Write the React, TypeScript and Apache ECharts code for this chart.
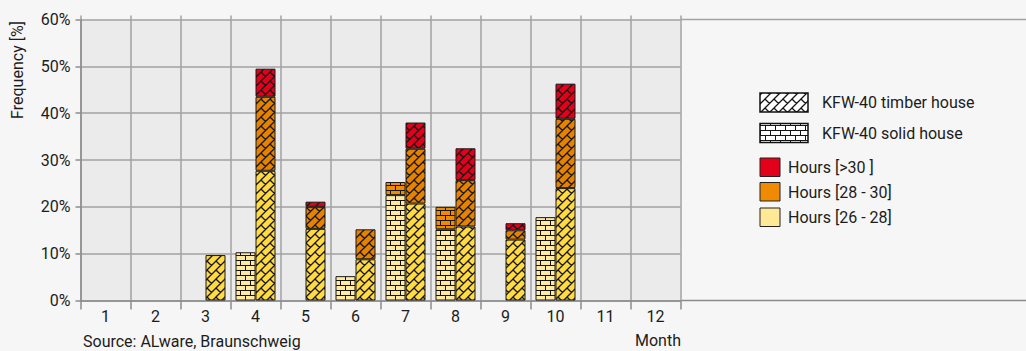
import React, { useEffect, useRef } from "react";
import * as echarts from "echarts";

const months = ["1", "2", "3", "4", "5", "6", "7", "8", "9", "10", "11", "12"];
const yTicks = [0, 10, 20, 30, 40, 50, 60];

// KFW-40 solid house (brick pattern)
const solid26_28 = [null, null, null, 10.3, null, 5.2, 22.5, 15.2, null, 17.8, null, null];
const solid28_30 = [null, null, null, null, null, null, 2.8, 4.8, null, null, null, null];
const solidOver30 = [null, null, null, null, null, null, null, null, null, null, null, null];

// KFW-40 timber house (diagonal brick pattern)
const timber26_28 = [null, null, 9.7, 27.7, 15.3, 8.8, 20.7, 15.8, 13.0, 24.0, null, null];
const timber28_30 = [null, null, null, 15.8, 4.7, 6.4, 11.7, 9.9, 2.0, 14.8, null, null];
const timberOver30 = [null, null, null, 6.0, 1.1, null, 5.6, 6.8, 1.5, 7.5, null, null];

const legendTypes = ["KFW-40 timber house", "KFW-40 solid house"];
const legendHours = ["Hours [>30 ]", "Hours [28 - 30]", "Hours [26 - 28]"];

const FONT = "Roboto";
const TXT = "#1c1c1c";
const GRID = "#a2a2a2";

function makePattern(bg: string | null, kind: "brick" | "diag", T: number) {
  const c = document.createElement("canvas");
  c.width = T;
  c.height = T;
  const g = c.getContext("2d")!;
  if (bg) {
    g.fillStyle = bg;
    g.fillRect(0, 0, T, T);
  }
  g.strokeStyle = "#151515";
  if (kind === "brick") {
    g.lineWidth = 1;
    g.beginPath();
    g.moveTo(0, 0.5);
    g.lineTo(T, 0.5);
    g.moveTo(0, T / 2 + 0.5);
    g.lineTo(T, T / 2 + 0.5);
    g.moveTo(0.5, 0);
    g.lineTo(0.5, T / 2);
    g.moveTo(T / 2 + 0.5, T / 2);
    g.lineTo(T / 2 + 0.5, T);
    g.stroke();
  } else {
    g.lineWidth = 1.3;
    g.beginPath();
    for (const dx of [-T, 0, T]) {
      for (const dy of [-T, 0, T]) {
        g.moveTo(dx, dy + T);
        g.lineTo(dx + T, dy);
        g.moveTo(dx, dy);
        g.lineTo(dx + T / 2, dy + T / 2);
      }
    }
    g.stroke();
  }
  return { image: c, repeat: "repeat", imageWidth: T, imageHeight: T } as any;
}

export default function App() {
  const ref = useRef<HTMLDivElement>(null);
  useEffect(() => {
    if (!ref.current) return;
    const chart = echarts.init(ref.current, null, { renderer: "svg" });

    const T = 10;
    const pSolidY = makePattern("#ffeaa0", "brick", T);
    const pSolidO = makePattern("#f08a00", "brick", T);
    const pSolidR = makePattern("#e3001b", "brick", T);
    const pTimY = makePattern("#ffda42", "diag", 9);
    const pTimO = makePattern("#e58200", "diag", 9);
    const pTimR = makePattern("#e3001b", "diag", 9);
    const pLegTim = makePattern("#ffffff", "diag", 9);
    const pLegSol = makePattern("#ffffff", "brick", T);

    const barBase = {
      type: "bar",
      barWidth: 20,
      barGap: "0%",
      xAxisIndex: 0,
      yAxisIndex: 0,
    };
    const border = { borderColor: "#1a1a1a", borderWidth: 1 };

    const legendSwatchX = 760;
    const hoursColors = ["#e3001b", "#f08a00", "#ffe896"];
    const hoursY = [158, 182.5, 208];

    const graphic: any[] = [
      {
        type: "text",
        x: 17.5,
        y: 70,
        rotation: Math.PI / 2,
        style: {
          text: "Frequency [%]",
          fontFamily: FONT,
          fontSize: 16,
          fill: TXT,
          textAlign: "center",
          textVerticalAlign: "middle",
        },
      },
      {
        type: "text",
        x: 83,
        y: 341,
        style: {
          text: "Source: ALware, Braunschweig",
          fontFamily: FONT,
          fontSize: 16,
          fill: TXT,
          textAlign: "left",
          textVerticalAlign: "middle",
        },
      },
      {
        type: "text",
        x: 681,
        y: 340,
        style: {
          text: "Month",
          fontFamily: FONT,
          fontSize: 16,
          fill: TXT,
          textAlign: "right",
          textVerticalAlign: "middle",
        },
      },
      {
        type: "line",
        shape: { x1: 680.5, y1: 300.5, x2: 1026, y2: 300.5 },
        style: { stroke: "#8c8c8c", lineWidth: 1.5 },
      },
      {
        type: "line",
        shape: { x1: 680.5, y1: 19.5, x2: 1026, y2: 19.5 },
        style: { stroke: GRID, lineWidth: 1.5 },
      },
      {
        type: "rect",
        shape: { x: legendSwatchX, y: 93, width: 48, height: 19 },
        style: { fill: pLegTim, stroke: "#111", lineWidth: 1.5 },
      },
      {
        type: "rect",
        shape: { x: legendSwatchX, y: 123.5, width: 48, height: 19 },
        style: { fill: pLegSol, stroke: "#111", lineWidth: 1.5 },
      },
      {
        type: "text",
        x: 822,
        y: 102,
        style: {
          text: legendTypes[0],
          fontFamily: FONT,
          fontSize: 16,
          fill: TXT,
          textAlign: "left",
          textVerticalAlign: "middle",
        },
      },
      {
        type: "text",
        x: 822,
        y: 133,
        style: {
          text: legendTypes[1],
          fontFamily: FONT,
          fontSize: 16,
          fill: TXT,
          textAlign: "left",
          textVerticalAlign: "middle",
        },
      },
    ];
    legendHours.forEach((label, i) => {
      graphic.push({
        type: "rect",
        shape: { x: legendSwatchX, y: hoursY[i], width: 20, height: 18.5 },
        style: { fill: hoursColors[i], stroke: "#222", lineWidth: 1 },
      });
      graphic.push({
        type: "text",
        x: 788,
        y: hoursY[i] + 9.5,
        style: {
          text: label,
          fontFamily: FONT,
          fontSize: 16,
          fill: TXT,
          textAlign: "left",
          textVerticalAlign: "middle",
        },
      });
    });

    chart.setOption({
      animation: false,
      backgroundColor: "#f6f6f6",
      textStyle: { fontFamily: FONT },
      grid: {
        left: 80.5,
        right: 1026 - 680.5,
        top: 19.5,
        bottom: 351 - 300.5,
        show: true,
        backgroundColor: "#ebebeb",
        borderWidth: 0,
      },
      xAxis: [
        {
          type: "category",
          data: months,
          boundaryGap: true,
          axisLine: { show: true, lineStyle: { color: "#8c8c8c", width: 1.5 } },
          axisTick: { show: true, length: 9, interval: 0, lineStyle: { color: "#8c8c8c", width: 1.5 } },
          axisLabel: { fontSize: 16, color: TXT, margin: 8, fontFamily: FONT },
          splitLine: { show: true, interval: 0, lineStyle: { color: GRID, width: 1.5 } },
        },
        {
          type: "category",
          data: months,
          position: "top",
          boundaryGap: true,
          axisLine: { show: false },
          axisTick: { show: true, length: 4, interval: 0, lineStyle: { color: GRID, width: 1.5 } },
          axisLabel: { show: false },
          splitLine: { show: false },
        },
      ],
      yAxis: {
        type: "value",
        min: yTicks[0],
        max: yTicks[yTicks.length - 1],
        interval: 10,
        axisLine: { show: true, lineStyle: { color: "#8c8c8c", width: 1.5 } },
        axisTick: { show: true, length: 5, lineStyle: { color: "#8c8c8c", width: 1.5 } },
        axisLabel: { fontSize: 16, color: TXT, margin: 10, formatter: "{value}%", fontFamily: FONT },
        splitLine: { show: true, lineStyle: { color: GRID, width: 1.5 } },
      },
      series: [
        { ...barBase, name: "solid 26-28", stack: "solid", data: solid26_28, itemStyle: { color: pSolidY, ...border } },
        { ...barBase, name: "solid 28-30", stack: "solid", data: solid28_30, itemStyle: { color: pSolidO, ...border } },
        { ...barBase, name: "solid >30", stack: "solid", data: solidOver30, itemStyle: { color: pSolidR, ...border } },
        { ...barBase, name: "timber 26-28", stack: "timber", data: timber26_28, itemStyle: { color: pTimY, ...border } },
        { ...barBase, name: "timber 28-30", stack: "timber", data: timber28_30, itemStyle: { color: pTimO, ...border } },
        { ...barBase, name: "timber >30", stack: "timber", data: timberOver30, itemStyle: { color: pTimR, ...border } },
      ],
      graphic,
    });
    return () => chart.dispose();
  }, []);
  return (
    <div
      ref={ref}
      style={{ position: "fixed", left: 0, top: 0, width: 1026, height: 351 }}
    />
  );
}
